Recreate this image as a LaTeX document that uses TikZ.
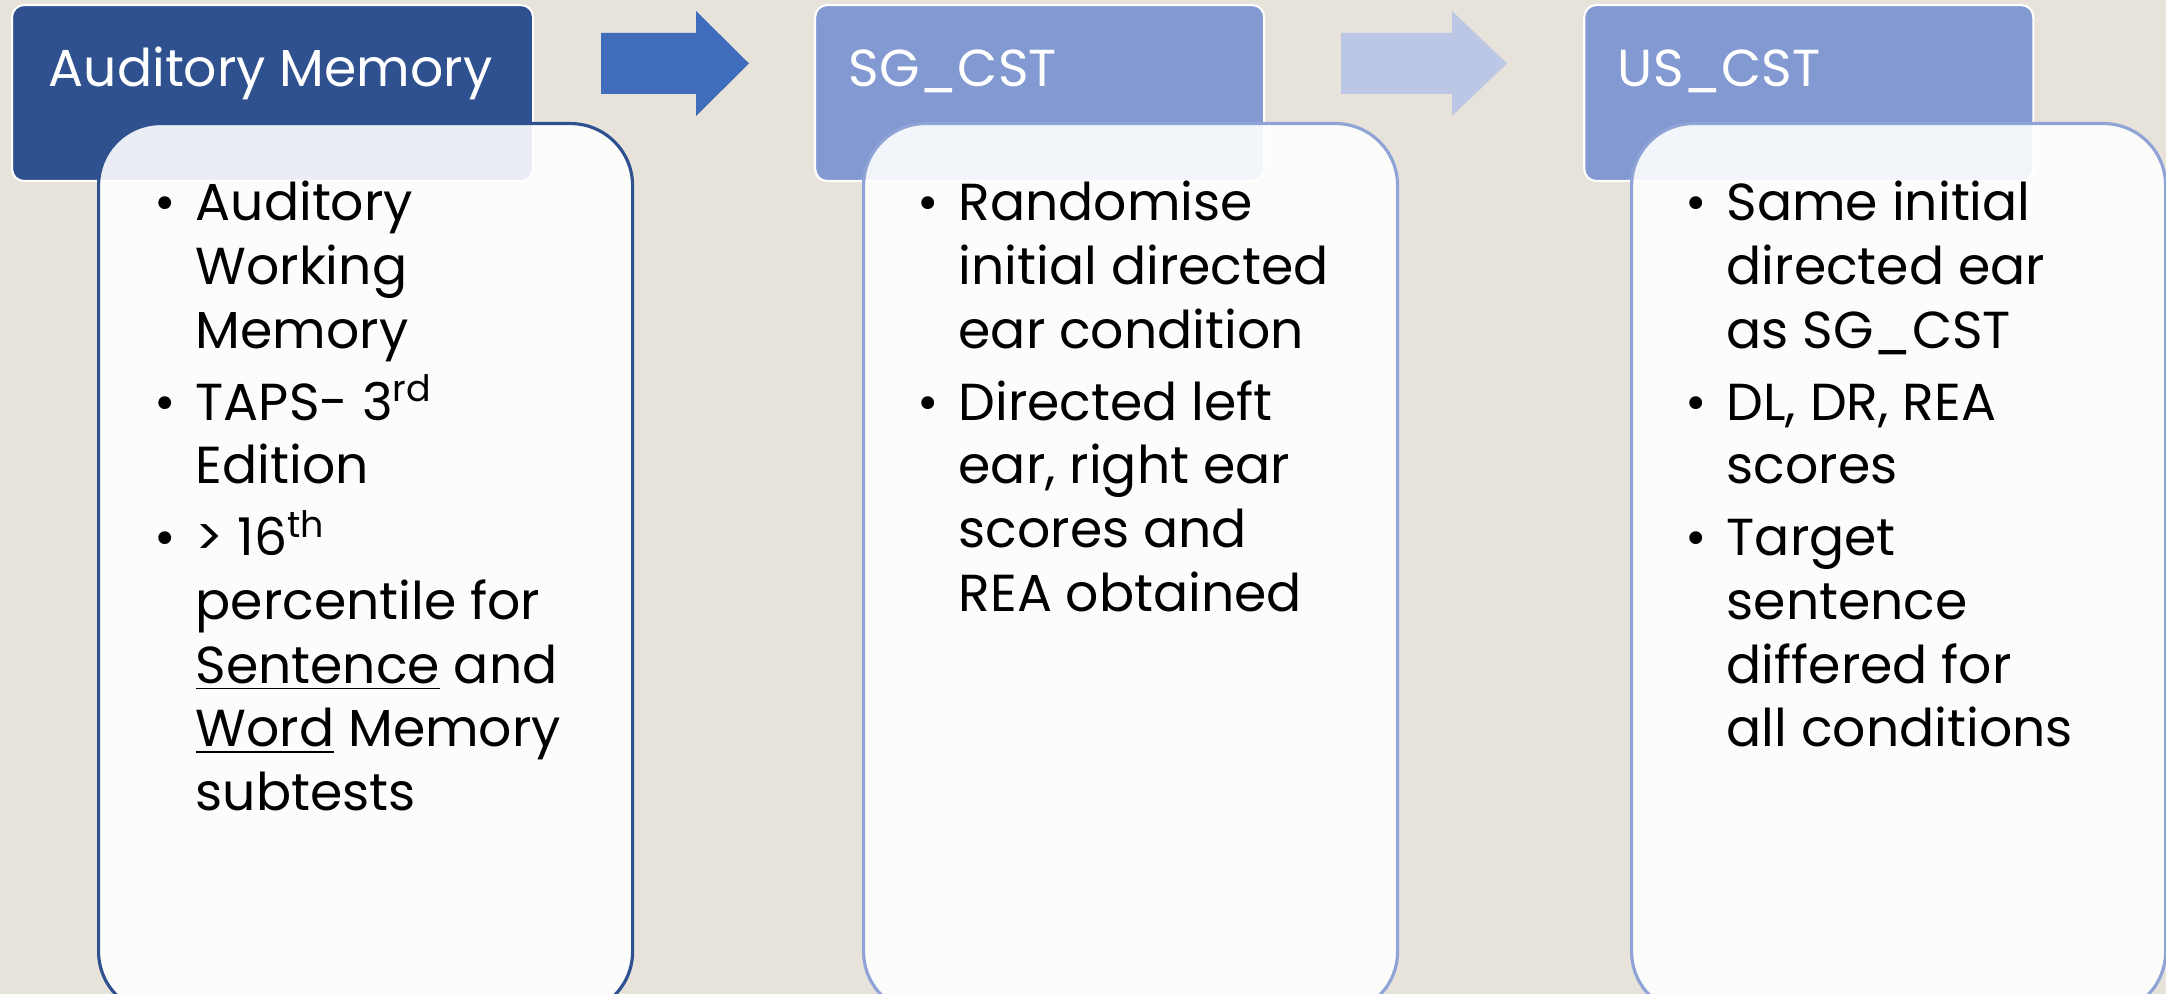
\documentclass[tikz,border=0pt]{standalone}
\usepackage{fontspec}
\setmainfont{Poppins}
\usetikzlibrary{positioning}

\definecolor{paper}{HTML}{E7E3DB}
\definecolor{hdark}{HTML}{2F5190}
\definecolor{hlight}{HTML}{8299D1}
\definecolor{arrdark}{HTML}{3F6DBB}
\definecolor{arrlight}{HTML}{BBC7E5}
\definecolor{plight}{HTML}{8FA3D6}

\newlength{\bulind}\setlength{\bulind}{0.41cm}
\newcommand{\bulitem}[1]{\par\hangindent=\bulind\hangafter=1\noindent\makebox[\bulind][l]{\textbullet}#1}
\newcommand{\bodylist}[1]{\parbox[t]{5cm}{\raggedright\fontsize{14.8pt}{18.1pt}\selectfont\setlength{\parskip}{2.4pt}#1}}

\begin{document}
\begin{tikzpicture}[
    head/.style={rounded corners=0.12cm, draw=white, line width=0.6pt, anchor=north west,
      minimum height=1.76cm, inner sep=0pt},
    headtext/.style={text=white, font=\fontsize{14.8pt}{18pt}\selectfont, anchor=base west, inner sep=0pt},
    panel/.style={rounded corners=0.62cm, fill=white, fill opacity=0.9, line width=0.9pt,
      anchor=north west, minimum width=5.34cm, minimum height=8.9cm, inner sep=0pt},
    paneltext/.style={anchor=base west, inner sep=0pt, text=black}]
    \path[use as bounding box, clip] (0,0) rectangle (21.66,-9.94);
    \fill[paper] (0,0) rectangle (21.66,-9.94);

    % header tabs
    \node[head, fill=hdark, minimum width=5.21cm] (hd1) at (0.11,-0.04) {};
    \node[head, fill=hlight, minimum width=4.49cm, right=2.80cm of hd1.north east, anchor=north west] (hd2) {};
    \node[head, fill=hlight, minimum width=4.49cm, right=3.18cm of hd2.north east, anchor=north west] (hd3) {};
    \node[headtext] (hd1t) at ([xshift=0.37cm, yshift=-0.83cm]hd1.north west) {Auditory Memory};
    \node[headtext] (hd2t) at ([xshift=0.34cm, yshift=-0.83cm]hd2.north west) {SG\_CST};
    \node[headtext] (hd3t) at ([xshift=0.34cm, yshift=-0.83cm]hd3.north west) {US\_CST};

    % block arrows
    \fill[arrdark] (6.01,-0.33) -- (6.96,-0.33) -- (6.96,-0.11) -- (7.49,-0.635)
      -- (6.96,-1.16) -- (6.96,-0.94) -- (6.01,-0.94) -- cycle;
    \fill[arrlight] (13.41,-0.33) -- (14.52,-0.33) -- (14.52,-0.11) -- (15.07,-0.635)
      -- (14.52,-1.16) -- (14.52,-0.94) -- (13.41,-0.94) -- cycle;

    % panels
    \node[panel, draw=hdark] (bd1) at (0.97,-1.22) {};
    \node[panel, draw=plight] (bd2) at (8.62,-1.22) {};
    \node[panel, draw=plight] (bd3) at (16.30,-1.22) {};

    \node[paneltext] (tx1) at ([xshift=0.57cm, yshift=-0.99cm]bd1.north west) {\bodylist{%
      \bulitem{Auditory\newline Working\newline Memory}
      \bulitem{TAPS- 3\textsuperscript{rd}\newline Edition}
      \bulitem{> 16\textsuperscript{th}\newline percentile for\newline \underline{Sentence} and\newline
        \underline{Word} Memory\newline subtests}}};
    \node[paneltext] (tx2) at ([xshift=0.55cm, yshift=-0.99cm]bd2.north west) {\bodylist{%
      \bulitem{Randomise\newline initial directed\newline ear condition}
      \bulitem{Directed left\newline ear, right ear\newline scores and\newline REA obtained}}};
    \node[paneltext] (tx3) at ([xshift=0.55cm, yshift=-0.99cm]bd3.north west) {\bodylist{%
      \bulitem{Same initial\newline directed ear\newline as SG\_CST}
      \bulitem{DL, DR, REA\newline scores}
      \bulitem{Target\newline sentence\newline differed for\newline all conditions}}};
\end{tikzpicture}
\end{document}
